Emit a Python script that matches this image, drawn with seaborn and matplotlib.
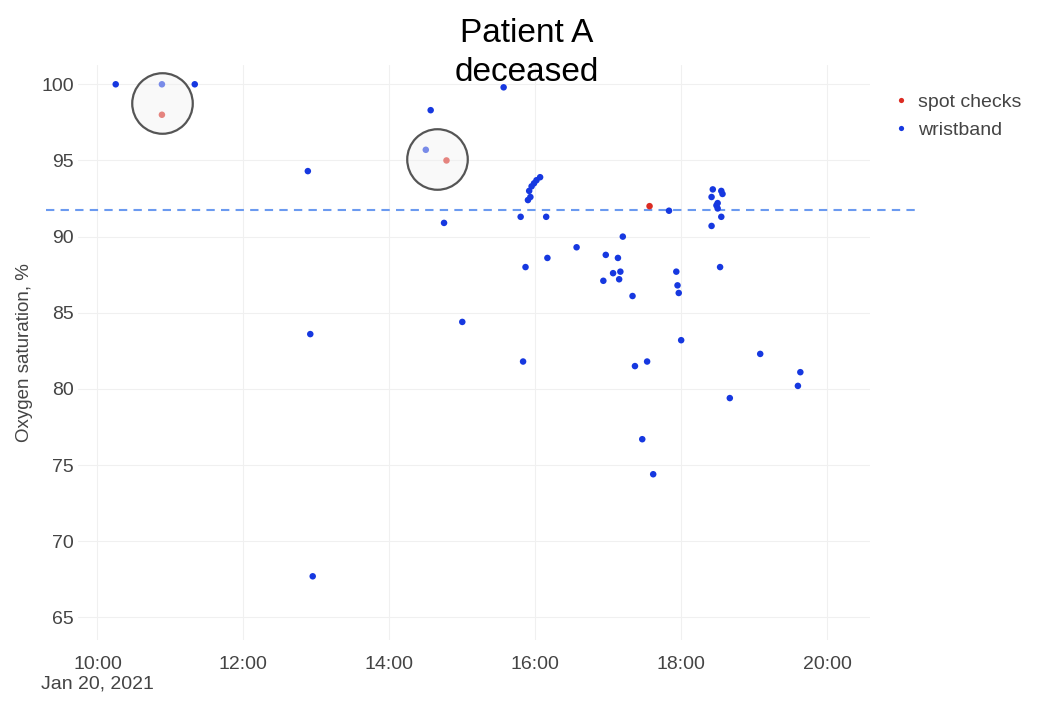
import pandas as pd
import seaborn as sns
import matplotlib.pyplot as plt

# wristband readings (time of day, SpO2 %)
wrist_times = ["10:15", "10:53", "11:20", "12:53", "12:55", "12:57", "14:34", "14:30", "14:45",
               "15:34", "15:00", "15:48", "15:52", "15:50", "15:54", "15:56", "15:55", "15:57",
               "15:59", "16:01", "16:04", "16:09", "16:10", "16:34", "16:56", "16:58", "17:04",
               "17:08", "17:10", "17:09", "17:12", "17:20", "17:22", "17:32", "17:28", "17:37",
               "17:50", "17:56", "17:57", "17:58", "18:00", "18:25", "18:25", "18:26", "18:29",
               "18:30", "18:30", "18:33", "18:34", "18:33", "18:32", "18:40", "19:05", "19:38",
               "19:36"]
wrist_spo2 = [100.0, 100.0, 100.0, 94.3, 83.6, 67.7, 98.3, 95.7, 90.9,
              99.8, 84.4, 91.3, 88.0, 81.8, 92.4, 92.6, 93.0, 93.3,
              93.5, 93.7, 93.9, 91.3, 88.6, 89.3, 87.1, 88.8, 87.6,
              88.6, 87.7, 87.2, 90.0, 86.1, 81.5, 81.8, 76.7, 74.4,
              91.7, 87.7, 86.8, 86.3, 83.2, 90.7, 92.6, 93.1, 92.05,
              91.85, 92.2, 93.0, 92.8, 91.3, 88.0, 79.4, 82.3, 81.1,
              80.2]

# spot checks
spot_times = ["10:53", "14:47", "17:34"]
spot_spo2 = [98.0, 95.0, 92.0]

# highlighted pairs (wristband vs spot check)
circle_times = ["10:53", "14:39"]
circle_spo2 = [98.8, 95.1]

threshold = 91.72
tick_times = ["10:00", "12:00", "14:00", "16:00", "18:00", "20:00"]
tick_labels = ["10:00\nJan 20, 2021", "12:00", "14:00", "16:00", "18:00", "20:00"]
day = "2021-01-20 "

df = pd.concat([
    pd.DataFrame({"time": spot_times, "spo2": spot_spo2, "source": "spot checks"}),
    pd.DataFrame({"time": wrist_times, "spo2": wrist_spo2, "source": "wristband"}),
])
df["time"] = pd.to_datetime(day + df["time"])

sns.set_theme(style="whitegrid")
plt.rcParams["font.family"] = ["Liberation Sans", "DejaVu Sans"]

fig = plt.figure(figsize=(10.43, 7.17), dpi=100)
ax = fig.add_axes([0.0748, 0.107, 0.759, 0.802])

sns.scatterplot(data=df, x="time", y="spo2", hue="source",
                hue_order=["spot checks", "wristband"],
                palette={"spot checks": "#dc2b22", "wristband": "#1638e0"},
                s=22, linewidth=0, ax=ax, zorder=3)

# highlight circles on top, semi transparent
ax.scatter(pd.to_datetime([day + t for t in circle_times]), circle_spo2,
           s=1900, facecolor=(0.95, 0.95, 0.95, 0.45), edgecolor="#555555",
           linewidth=1.6, zorder=4)

ax.plot([-0.04, 1.0625], [threshold, threshold], transform=ax.get_yaxis_transform(),
        color="#6b9af0", ls=(0, (4, 3)), lw=1.5, clip_on=False, zorder=2)

ax.set_xlim(pd.Timestamp(day + "09:44"), pd.Timestamp(day + "20:35"))
ax.set_ylim(63.5, 101.25)
ax.set_yticks([65, 70, 75, 80, 85, 90, 95, 100])
ax.set_xticks(pd.to_datetime([day + t for t in tick_times]))
ax.set_xticklabels(tick_labels)

ax.grid(color="#f0f0f0", lw=0.8)
for sp in ax.spines.values():
    sp.set_visible(False)
ax.tick_params(axis="both", length=0, labelsize=14, labelcolor="#444444")
ax.tick_params(axis="x", pad=11)
ax.tick_params(axis="y", pad=3)

ax.set_xlabel("")
ax.set_ylabel("Oxygen saturation, %", fontsize=13.5, color="#444444", labelpad=6)

fig.text(0.505, 0.975, "Patient A\ndeceased", ha="center", va="top",
         fontsize=24, color="black", linespacing=1.35)

leg = ax.legend(loc="upper left", bbox_to_anchor=(0.998, 0.982), frameon=False,
                fontsize=14, markerscale=0.8, handletextpad=0.05, labelspacing=0.55,
                handlelength=1.6)
for t in leg.get_texts():
    t.set_color("#444444")

fig.savefig("out.png", dpi=100)
